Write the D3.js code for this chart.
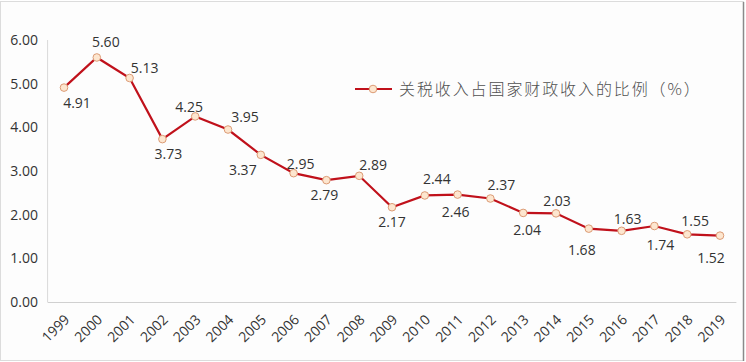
<!DOCTYPE html>
<html>
<head>
<meta charset="utf-8">
<script src="https://cdn.jsdelivr.net/npm/d3@7"></script>
<style>
  body { margin: 0; background: #fff; }
  text { font-family: "Open Sans", "Noto Sans CJK SC", sans-serif; }
</style>
</head>
<body>
<div id="chart"></div>
<script>
var years = ["1999","2000","2001","2002","2003","2004","2005","2006","2007","2008","2009",
             "2010","2011","2012","2013","2014","2015","2016","2017","2018","2019"];
var ratio = [4.91, 5.60, 5.13, 3.73, 4.25, 3.95, 3.37, 2.95, 2.79, 2.89, 2.17,
             2.44, 2.46, 2.37, 2.04, 2.03, 1.68, 1.63, 1.74, 1.55, 1.52];
var yTicks = [0, 1, 2, 3, 4, 5, 6];
var seriesName = "关税收入占国家财政收入的比例（%）";

// label nudges (dx, dy)
var labelDx = [13, 9, 15, 6, -6, 17, -18, 7, -2, 14, 0, 12, -2, 11, 4, 1, -7, 6, 6, 8, -9];
var labelDy = [16, -15, -10, 15, -9, -12, 15, -9, 15, -11, 15, -16, 18, -13, 17, -12, 21, -12, 19, -13, 22];

var width = 746, height = 362;

var svg = d3.select("#chart")
  .append("svg")
  .attr("width", width)
  .attr("height", height);

// frame
svg.append("rect")
  .attr("x", 0.5).attr("y", 1.5)
  .attr("width", 743).attr("height", 359)
  .attr("fill", "#fdfdfd")
  .attr("stroke", "#dcdcdc");
svg.append("line")
  .attr("x1", 743.5).attr("x2", 743.5).attr("y1", 2).attr("y2", 361)
  .attr("stroke", "#8a8a8a").attr("stroke-width", 1.5);

var x = d3.scalePoint().domain(years).range([64, 720]);
var y = d3.scaleLinear().domain([0, 6]).range([302, 40]);
var step = x.step();
var left = x(years[0]) - step / 2;
var right = x(years[years.length - 1]) + step / 2;

// axis lines
svg.append("line")
  .attr("x1", left).attr("x2", left).attr("y1", y(6)).attr("y2", y(0))
  .attr("stroke", "#d9d9d9");
svg.append("line")
  .attr("x1", left).attr("x2", right).attr("y1", y(0) + 0.5).attr("y2", y(0) + 0.5)
  .attr("stroke", "#d0d0d0");

// y labels
svg.selectAll(".ylab")
  .data(yTicks)
  .enter().append("text")
  .attr("class", "ylab")
  .attr("x", 38)
  .attr("y", function(d) { return y(d); })
  .attr("dy", "0.35em")
  .attr("text-anchor", "end")
  .style("font-size", "14px")
  .style("fill", "#333")
  .text(function(d) { return d.toFixed(2); });

// x labels, rotated
svg.selectAll(".xlab")
  .data(years)
  .enter().append("text")
  .attr("class", "xlab")
  .attr("transform", function(d) { return "translate(" + (x(d) + 3) + ",317) rotate(-45)"; })
  .attr("text-anchor", "end")
  .attr("dy", "0.35em")
  .style("font-size", "14px")
  .style("fill", "#333")
  .text(function(d) { return d; });

var pts = years.map(function(d, i) { return { year: d, v: ratio[i], i: i }; });

svg.append("path")
  .datum(pts)
  .attr("fill", "none")
  .attr("stroke", "#c0111b")
  .attr("stroke-width", 2.2)
  .attr("d", d3.line()
    .x(function(d) { return x(d.year); })
    .y(function(d) { return y(d.v); }));

svg.selectAll(".dot")
  .data(pts)
  .enter().append("circle")
  .attr("class", "dot")
  .attr("cx", function(d) { return x(d.year); })
  .attr("cy", function(d) { return y(d.v); })
  .attr("r", 3.8)
  .attr("fill", "#fde6cf")
  .attr("stroke", "#dc9b75")
  .attr("stroke-width", 1);

svg.selectAll(".vlab")
  .data(pts)
  .enter().append("text")
  .attr("class", "vlab")
  .attr("x", function(d) { return x(d.year) + labelDx[d.i]; })
  .attr("y", function(d) { return y(d.v) + labelDy[d.i]; })
  .attr("dy", "0.35em")
  .attr("text-anchor", "middle")
  .style("font-size", "14px")
  .style("fill", "#333")
  .text(function(d) { return d.v.toFixed(2); });

// legend
var legY = 89;
svg.append("line")
  .attr("x1", 355).attr("x2", 392).attr("y1", legY).attr("y2", legY)
  .attr("stroke", "#c0111b").attr("stroke-width", 2.2);
svg.append("circle")
  .attr("cx", 373).attr("cy", legY).attr("r", 3.8)
  .attr("fill", "#fde6cf").attr("stroke", "#dc9b75");
svg.append("text")
  .attr("x", 399).attr("y", legY).attr("dy", "0.35em")
  .style("font-size", "16px")
  .style("letter-spacing", "1.9px")
  .style("fill", "#505050")
  .style("font-weight", "300")
  .style("font-family", "'Noto Sans CJK SC', sans-serif")
  .text(seriesName);
</script>
</body>
</html>
